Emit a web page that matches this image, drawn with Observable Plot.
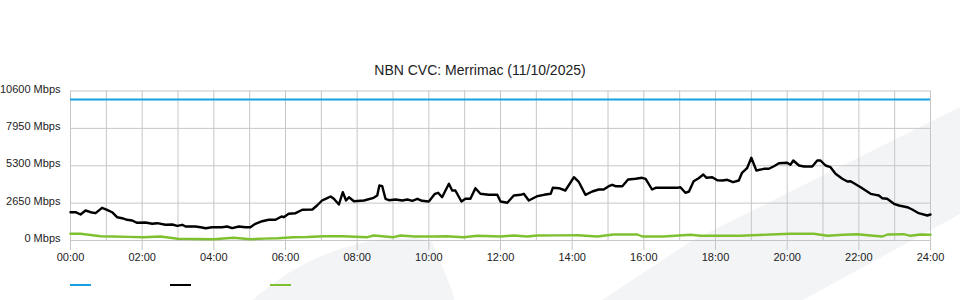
<!DOCTYPE html>
<html>
<head>
<meta charset="utf-8">
<script src="https://cdn.jsdelivr.net/npm/d3@7"></script>
<script src="https://cdn.jsdelivr.net/npm/@observablehq/plot@0.6"></script>
<style>
  html, body { margin: 0; padding: 0; background: #fff; }
  #wrap { position: relative; width: 960px; height: 300px; overflow: hidden; font-family: "Liberation Sans", Arial, sans-serif; }
  #bg { position: absolute; left: 0; top: 0; z-index: 0; }
  #title { position: absolute; left: 0; top: 62px; width: 960px; text-align: center; font-size: 14px; color: #222; z-index: 2; }
  #chart { position: absolute; left: 0; top: 80px; z-index: 1; }
  #legend { position: absolute; left: 70px; top: 284px; z-index: 2; display: flex; gap: 79px; }
  #legend span { display: block; width: 21px; height: 2px; }
</style>
</head>
<body>
<div id="wrap">
  <svg id="bg" width="960" height="300">
    <path d="M253,300 C290,266 340,242 395,238 C410,237 425,238 432,242 L452,290 L454,300 Z" fill="#f3f4f6"/>
    <path d="M602,300 L693,240 L960,107 L960,214 L803,300 Z" fill="#f3f4f6"/>
  </svg>
  <div id="title">NBN CVC: Merrimac (11/10/2025)</div>
  <div id="chart"></div>
  <div id="legend"></div>
</div>
<script>
// ---- data ----
const title = "NBN CVC: Merrimac (11/10/2025)";
const yTicks = [0, 2650, 5300, 7950, 10600];
const xTickHours = [0, 2, 4, 6, 8, 10, 12, 14, 16, 18, 20, 22, 24];
const gridHours = d3.range(0, 25);
const capacityMbps = 10000;
const seriesNames = ["capacity", "download", "upload"];
const seriesColors = ["#17a1e3", "#000000", "#7fc031"];

const downloadHours = [0.00,0.14,0.28,0.42,0.56,0.70,0.88,1.02,1.16,1.30,1.44,1.58,1.72,1.86,2.09,2.28,2.42,2.65,2.84,2.98,3.12,3.21,3.49,3.63,3.77,3.95,4.23,4.37,4.51,4.70,4.88,5.02,5.16,5.35,5.53,5.72,5.89,5.95,6.09,6.28,6.47,6.75,6.88,7.02,7.12,7.26,7.35,7.49,7.60,7.69,7.77,7.91,8.19,8.46,8.56,8.62,8.70,8.79,8.89,9.07,9.26,9.40,9.54,9.68,9.81,10.00,10.17,10.26,10.37,10.56,10.65,10.74,10.91,11.02,11.16,11.30,11.44,11.67,11.91,12.00,12.19,12.37,12.56,12.65,12.79,13.02,13.21,13.40,13.46,13.63,13.81,14.05,14.19,14.37,14.56,14.74,14.88,15.02,15.12,15.21,15.40,15.56,15.77,15.95,16.05,16.23,16.33,16.93,17.02,17.16,17.26,17.39,17.53,17.66,17.75,17.91,18.05,18.19,18.33,18.49,18.65,18.74,18.88,19.00,19.14,19.35,19.49,19.63,19.77,20.00,20.09,20.17,20.33,20.47,20.70,20.84,20.93,21.07,21.21,21.35,21.54,21.68,21.77,22.05,22.33,22.47,22.56,22.65,22.79,22.98,23.12,23.35,23.49,23.67,23.91,24.00];
const downloadMbps = [2006,2006,1843,2127,2006,1936,2318,2177,2006,1652,1581,1468,1418,1255,1276,1184,1227,1113,1134,1042,1113,993,993,943,872,943,943,993,872,993,943,943,1184,1368,1468,1468,1702,1652,1893,1936,2177,2198,2482,2836,2957,3120,2957,2552,3424,2836,3070,2786,2836,3027,3190,3900,3850,2957,2857,2907,2836,2907,2815,2957,2815,2765,3311,3382,3070,4020,3545,3545,2765,2957,2957,3708,3311,3240,3240,2765,2673,3190,3240,3311,2836,3141,3240,3311,3736,3708,3545,4488,4133,3240,3474,3616,3616,3850,3949,3850,3850,4325,4375,4445,4375,3616,3736,3736,3779,3382,3474,4204,4417,4679,4445,4488,4275,4254,4304,4133,4254,4800,5126,5863,4963,5084,5084,5268,5481,5509,5367,5672,5318,5247,5247,5672,5672,5318,5197,4729,4375,4183,4204,3779,3311,3240,3190,2999,2957,2602,2481,2361,2198,1936,1772,1843];

const uploadHours = [0.00,0.28,0.84,1.20,1.60,2.04,2.51,2.99,3.50,3.99,4.55,5.02,5.40,5.78,6.22,6.60,7.06,7.60,8.29,8.46,9.01,9.21,9.60,10.13,10.50,10.97,11.36,12.00,12.36,12.75,13.03,13.60,14.15,14.71,15.15,15.82,15.96,16.55,17.30,17.58,18.20,18.70,19.54,20.09,20.74,21.13,21.57,21.96,22.33,22.66,22.80,23.25,23.44,23.72,24.00];
const uploadMbps = [475,475,305,284,260,234,284,121,110,92,191,92,130,163,234,250,305,300,234,355,234,355,280,284,300,234,333,284,355,284,355,360,376,284,425,425,284,284,404,333,340,333,425,475,475,333,404,447,355,284,425,447,333,425,404];

// ---- build ----
const download = downloadHours.map((h, i) => ({h, v: downloadMbps[i]}));
const upload = uploadHours.map((h, i) => ({h, v: uploadMbps[i]}));
const pad = n => String(n).padStart(2, "0");

const chart = Plot.plot({
  width: 960,
  height: 190,
  marginLeft: 70,
  marginRight: 30,
  marginTop: 10.5,
  marginBottom: 30,
  x: {domain: [0, 24]},
  y: {domain: [0, 10600]},
  style: {background: "transparent", fontFamily: "'Liberation Sans', Arial, sans-serif", fontSize: "11px", color: "#222", overflow: "visible"},
  marks: [
    Plot.ruleX(gridHours, {stroke: "#c6c6c6", strokeWidth: 1}),
    Plot.ruleY(yTicks, {stroke: "#c6c6c6", strokeWidth: 1}),
    Plot.axisX({ticks: xTickHours, tickSize: 10, tickPadding: 3, tickFormat: h => pad(h) + ":00", stroke: "#c6c6c6", fill: "#222", label: null}),
    Plot.axisY({ticks: yTicks, tickSize: 0, tickPadding: 10, tickFormat: d => d + " Mbps", fill: "#222", label: null, dy: -2}),
    Plot.ruleY([capacityMbps], {stroke: seriesColors[0], strokeWidth: 2}),
    Plot.line(upload, {x: "h", y: "v", stroke: seriesColors[2], strokeWidth: 2.4}),
    Plot.line(download, {x: "h", y: "v", stroke: seriesColors[1], strokeWidth: 2.4})
  ]
});
document.getElementById("chart").appendChild(chart);
document.getElementById("title").textContent = title;

const legend = document.getElementById("legend");
seriesNames.forEach((name, i) => {
  const s = document.createElement("span");
  s.title = name;
  s.style.background = seriesColors[i];
  legend.appendChild(s);
});
</script>
</body>
</html>
